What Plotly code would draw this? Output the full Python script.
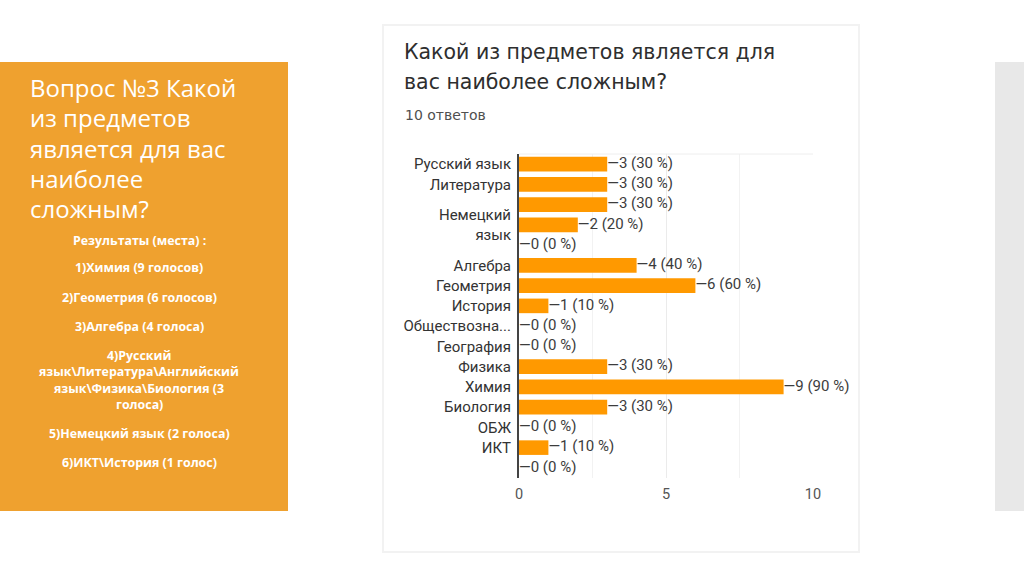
import plotly.graph_objects as go

# --- data -------------------------------------------------------------------
subjects = [
    "Русский язык", "Литература", "Английский язык", "Немецкий язык",
    "Французский язык", "Алгебра", "Геометрия", "История",
    "Обществознание", "География", "Физика", "Химия", "Биология",
    "ОБЖ", "ИКТ", "Другое",
]
tick_labels = [
    "Русский язык", "Литература", "", "Немецкий<br>язык", "", "Алгебра",
    "Геометрия", "История", "Обществозна...", "География", "Физика",
    "Химия", "Биология", "ОБЖ", "ИКТ", "",
]
votes = [3, 3, 3, 2, 0, 4, 6, 1, 0, 0, 3, 9, 3, 0, 1, 0]
total_answers = 10

slide_title = ["Вопрос №3 Какой", "из предметов", "является для вас",
               "наиболее", "сложным?"]
results = [
    ("Результаты (места) :", 240),
    ("1)Химия (9 голосов)", 268),
    ("2)Геометрия (6 голосов)", 297),
    ("3)Алгебра (4 голоса)", 326),
    ("4)Русский", 355),
    ("язык\\Литература\\Английский", 371),
    ("язык\\Физика\\Биология (3", 388),
    ("голоса)", 404),
    ("5)Немецкий язык (2 голоса)", 433),
    ("6)ИКТ\\История (1 голос)", 462),
]

W, H = 1024, 574
ORANGE_BOX = "#EFA12F"
BAR = "#FF9900"


def px_x(v):
    return v / W


def px_y(v):
    return 1 - v / H


value_labels = [f"—{v} ({round(v * 100 / total_answers)} %)" for v in votes]

fig = go.Figure()
fig.add_trace(go.Bar(
    x=votes, y=subjects, orientation="h",
    marker=dict(color=BAR, line=dict(width=0)),
    width=0.72, hoverinfo="x+y",
))
fig.add_trace(go.Scatter(
    x=votes, y=subjects, mode="text", text=value_labels,
    textposition="middle right", cliponaxis=False,
    textfont=dict(family="Roboto", size=15, color="#3C3C3C"),
    hoverinfo="skip",
))

shapes = [
    # white card of the form screenshot
    dict(type="rect", xref="paper", yref="paper",
         x0=px_x(383), x1=px_x(859), y0=px_y(552), y1=px_y(25),
         fillcolor="white", line=dict(color="#F2F2F2", width=2), layer="below"),
    # orange text panel
    dict(type="rect", xref="paper", yref="paper",
         x0=0, x1=px_x(288), y0=px_y(511), y1=px_y(62),
         fillcolor=ORANGE_BOX, line=dict(width=0), layer="below"),
    # grey strip at the right edge
    dict(type="rect", xref="paper", yref="paper",
         x0=px_x(995), x1=1, y0=px_y(511), y1=px_y(62),
         fillcolor="#E8E8E8", line=dict(width=0), layer="below"),
    # faint top border of plot area
    dict(type="line", xref="paper", yref="paper",
         x0=px_x(519), x1=px_x(813), y0=px_y(154), y1=px_y(154),
         line=dict(color="#EEEEEE", width=1)),
]

annotations = []
for i, line in enumerate(slide_title):
    annotations.append(dict(
        text=line, xref="paper", yref="paper", x=px_x(28), y=px_y(88 + i * 30),
        xanchor="left", yanchor="middle", showarrow=False,
        font=dict(family="Open Sans", size=24, color="white"),
    ))
for line, ypix in results:
    annotations.append(dict(
        text=f"<b>{line}</b>", xref="paper", yref="paper", x=px_x(139),
        y=px_y(ypix), xanchor="center", yanchor="middle", showarrow=False,
        font=dict(family="Open Sans", size=12.4, color="white"),
    ))
annotations += [
    dict(text="Какой из предметов является для", xref="paper", yref="paper",
         x=px_x(402), y=px_y(52), xanchor="left", yanchor="middle",
         showarrow=False, font=dict(family="DejaVu Sans", size=20.5, color="#2E2E2E")),
    dict(text="вас наиболее сложным?", xref="paper", yref="paper",
         x=px_x(402), y=px_y(82), xanchor="left", yanchor="middle",
         showarrow=False, font=dict(family="DejaVu Sans", size=20.5, color="#2E2E2E")),
    dict(text=f"{total_answers} ответов", xref="paper", yref="paper",
         x=px_x(403), y=px_y(115), xanchor="left", yanchor="middle",
         showarrow=False, font=dict(family="DejaVu Sans", size=14, color="#505050")),
]

fig.update_layout(
    width=W, height=H,
    margin=dict(l=0, r=0, t=0, b=0, pad=0, autoexpand=False),
    paper_bgcolor="white", plot_bgcolor="white",
    showlegend=False,
    shapes=shapes, annotations=annotations,
    xaxis=dict(
        domain=[px_x(519), px_x(813)], range=[0, 10],
        tickvals=[0, 5, 10], showgrid=True, gridcolor="#EBEBEB", gridwidth=1,
        minor=dict(dtick=2.5, showgrid=True, gridcolor="#F2F2F2"),
        zeroline=False, showline=False, ticks="",
        tickfont=dict(family="Roboto", size=14.5, color="#555555"),
        ticklabelstandoff=5, automargin=False,
        fixedrange=True,
    ),
    yaxis=dict(
        domain=[px_y(478), px_y(154)],
        range=[len(subjects) - 0.5, -0.5], autorange=False,
        tickvals=subjects, ticktext=tick_labels,
        showline=True, linecolor="#444444", linewidth=2,
        showgrid=False, zeroline=False, ticks="",
        tickfont=dict(family="Roboto", size=15, color="#333333"),
        ticklabelstandoff=3, automargin=False,
        fixedrange=True,
    ),
)

fig.write_html(
    "out.html",
    config={"displayModeBar": False},
    post_script="document.documentElement.style.margin='0';"
                "document.documentElement.style.overflow='hidden';"
                "document.body.style.margin='0';"
                "document.body.style.overflow='hidden';",
)
